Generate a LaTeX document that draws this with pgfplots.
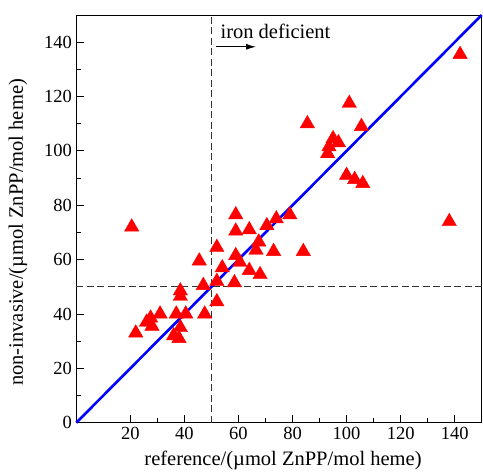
\documentclass[border=0pt]{standalone}
\usepackage{fontspec}
\setmainfont{Liberation Serif}
\usepackage{pgfplots}
\pgfplotsset{compat=1.18}
\usetikzlibrary{arrows.meta}

\begin{document}
\begin{tikzpicture}
\begin{axis}[
    scale only axis,
    width=405.4pt,
    height=407.7pt,
    xmin=0, xmax=150,
    ymin=0, ymax=150,
    xtick={20,40,...,140},
    ytick={0,20,...,140},
    minor tick num=1,
    xtick pos=left,
    ytick pos=left,
    major tick length=8pt,
    minor tick length=5pt,
    tick style={black, line width=0.8pt},
    axis line style={black, line width=0.9pt},
    ticklabel style={font=\fontsize{18.5}{22}\selectfont},
    /pgf/number format/assume math mode=true,
    xticklabel style={yshift=-1pt},
    yticklabel style={xshift=-1pt},
    xlabel={reference/(µmol ZnPP/mol heme)},
    ylabel={non-invasive/(µmol ZnPP/mol heme)},
    label style={font=\fontsize{20.5}{24}\selectfont},
    xlabel style={at={(axis description cs:0.5,0)}, anchor=base, yshift=-42.3pt, xshift=4pt},
    ylabel style={at={(axis description cs:0,0.5)}, anchor=center, yshift=58.3pt, xshift=-13.6pt},
    clip=false,
]
% threshold lines
\addplot[black!80, line width=1pt, dash pattern=on 7pt off 3.5pt] coordinates {(50,0) (50,150)};
\addplot[black!80, line width=1pt, dash pattern=on 7pt off 3.5pt] coordinates {(0,50) (150,50)};

% line of identity
\addplot[blue, line width=2.6pt] coordinates {(0,0) (150,150)};

% measurements
\addplot[only marks, mark=triangle*, mark size=8.3pt, color=red, fill=red] coordinates {
    (20.5,72) (22,33) (26,37) (28,35.5) (27.5,38.5) (31,40)
    (36,32) (38,31) (37,40) (38.5,35) (40.5,40) (38.5,46.5)
    (38.5,48.5) (47.5,40) (52,44.5) (47,50.5) (52,52) (58.5,51.5)
    (45.5,59.5) (52,64.5) (54,57) (59,61.5) (60.5,59) (64,56)
    (68,54.5) (66.5,63.5) (67.5,66.5) (73,63) (84,63) (59,70.5)
    (59,76.5) (64,71) (70.5,72.5) (74,75) (79,76.5) (85.5,110)
    (93,99) (93.5,101.5) (95,104.5) (97,103) (101,117.5) (105.5,109)
    (100,91) (103,89.5) (106,88) (138,74) (142,135.5)
};

% annotation
\node[anchor=west, inner sep=0pt, font=\fontsize{20.5}{24}\selectfont] at (axis cs:53.3,143.8) {iron deficient};
\draw[-{Latex[length=10pt,width=6pt]}, line width=1pt] (axis cs:51.8,138.3) -- (axis cs:66.5,138.3);
\end{axis}
\pgfresetboundingbox
\path (current axis.south west) ++(-76.3pt,-50.3pt) coordinate (bbl);
\path (current axis.north east) ++(1.3pt,15pt) coordinate (btr);
\path[use as bounding box] (bbl) rectangle (btr);
\end{tikzpicture}
\end{document}
